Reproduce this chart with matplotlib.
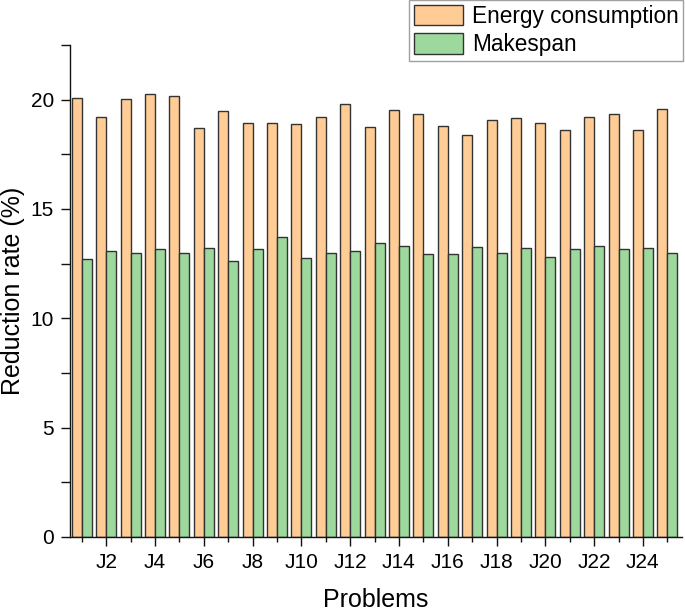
import numpy as np
import matplotlib.pyplot as plt
from matplotlib.ticker import MultipleLocator

plt.rcParams["font.family"] = ["Liberation Sans", "DejaVu Sans"]

# Data
problems = [f"J{i}" for i in range(1, 26)]
energy = [20.08, 19.19, 20.05, 20.26, 20.18, 18.70, 19.47, 18.93, 18.95, 18.89,
          19.19, 19.80, 18.76, 19.53, 19.33, 18.79, 18.37, 19.07, 19.18, 18.95,
          18.61, 19.21, 19.36, 18.59, 19.56]
makespan = [12.71, 13.06, 12.98, 13.15, 12.97, 13.21, 12.60, 13.18, 13.70, 12.74,
            13.01, 13.09, 13.44, 13.32, 12.94, 12.92, 13.24, 12.97, 13.20, 12.80,
            13.17, 13.30, 13.18, 13.21, 12.98]

x = np.arange(1, len(problems) + 1)
width = 0.41

fig = plt.figure(figsize=(6.85, 6.11), dpi=100)
ax = fig.add_axes([70 / 685, 1 - 537 / 611, (681.7 - 70) / 685, (537 - 45) / 611])

b1 = ax.bar(x - width / 2, energy, width, color="#FFCC96", edgecolor="#333333",
            linewidth=1.0, label="Energy consumption")
b2 = ax.bar(x + width / 2, makespan, width, color="#9DD89D", edgecolor="#333333",
            linewidth=1.0, label="Makespan")

ax.set_xlim(0.52, 25.59)
ax.set_ylim(0, 22.5)

ax.set_xticks(x[1::2])
ax.set_xticklabels(problems[1::2])
ax.set_xticks(x[0::2], minor=True)
ax.yaxis.set_major_locator(MultipleLocator(5))
ax.yaxis.set_minor_locator(MultipleLocator(2.5))

for s in ["top", "right"]:
    ax.spines[s].set_visible(False)
for s in ["left", "bottom"]:
    ax.spines[s].set_linewidth(1.0)
    ax.spines[s].set_color("#111111")

ax.tick_params(axis="both", which="major", direction="out", length=6.5,
               width=1.0, labelsize=15, color="#111111")
ax.tick_params(axis="x", which="minor", direction="out", length=3.6,
               width=1.0, color="#111111")
ax.tick_params(axis="y", which="minor", direction="out", length=6.5,
               width=1.0, color="#111111")
ax.tick_params(axis="x", which="major", pad=5)
ax.tick_params(axis="y", which="major", pad=5)

ax.set_xlabel("Problems", fontsize=18)
ax.set_ylabel("Reduction rate (%)", fontsize=18)
ax.xaxis.set_label_coords(0.5, -0.104)
ax.yaxis.set_label_coords(-0.0736, 0.5)

leg = fig.legend(handles=[b1, b2], loc="upper right",
                 bbox_to_anchor=(683 / 685, 1.0), fontsize=16.3,
                 frameon=True, fancybox=False, edgecolor="#888888",
                 handlelength=2.17, handleheight=1.0, handletextpad=0.4,
                 labelspacing=0.25, borderpad=0.2, borderaxespad=0.0)
leg.get_frame().set_linewidth(1.0)

fig.savefig("out.png", dpi=100)
